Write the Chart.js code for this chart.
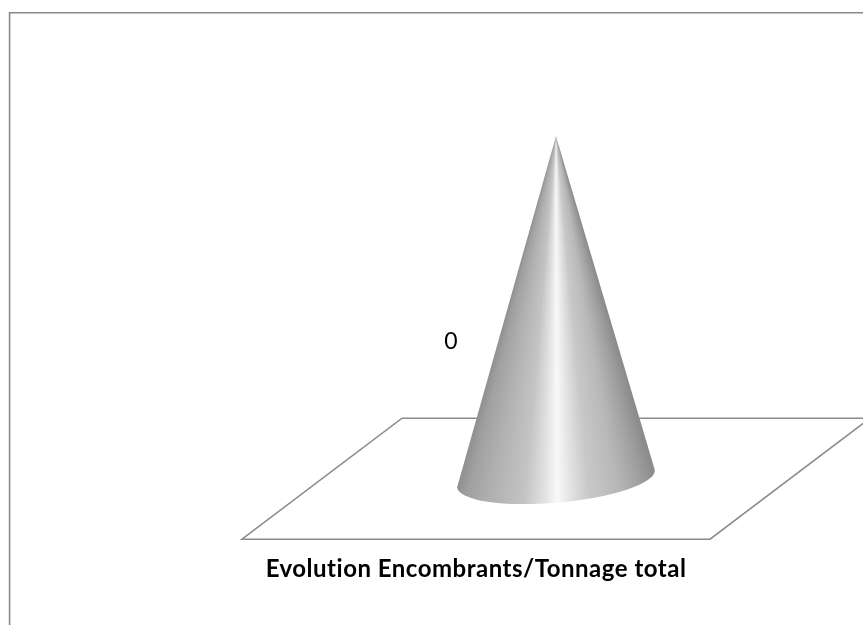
<!DOCTYPE html>
<html>
<head>
<meta charset="utf-8">
<title>Evolution Encombrants/Tonnage total</title>
<script src="https://cdn.jsdelivr.net/npm/chart.js"></script>
<style>
  html, body { margin: 0; padding: 0; background: #fff; overflow: hidden; }
  canvas { display: block; }
</style>
</head>
<body>
<canvas id="myChart" width="863" height="625"></canvas>
<script>
const categories = ["Encombrants"];
const tonnage = [0.4]; // label shows 0 once rounded
const chartTitle = "Evolution Encombrants/Tonnage total";

// shading across the cone, x is 0..1 from left edge to right edge of the base
const coneShades = [
  [0.00, "#8c8c8c"], [0.07, "#a0a0a0"], [0.185, "#b0b0b0"], [0.35, "#c4c4c4"],
  [0.44, "#e0e0e0"], [0.505, "#f8f8f8"], [0.58, "#e0e0e0"], [0.66, "#c8c8c8"],
  [0.80, "#b8b8b8"], [0.915, "#a0a0a0"], [1.00, "#8c8c8c"],
];

const floorDepth = { x: 160, y: -121 };
const lineColor = "#8b8b8b";

const framePlugin = {
  id: "frame",
  beforeDraw(chart) {
    // no ligatures in the title, the original font has none
    chart.ctx.letterSpacing = "0.5px";
  },
  beforeDatasetsDraw(chart) {
    const ctx = chart.ctx;
    const a = chart.chartArea;
    ctx.save();
    // outer frame, only top and left are inside the picture
    ctx.strokeStyle = "#8a8a8a";
    ctx.lineWidth = 1.6;
    ctx.beginPath();
    ctx.moveTo(9.6, chart.height);
    ctx.lineTo(9.6, 12.7);
    ctx.lineTo(chart.width, 12.7);
    ctx.stroke();
    // floor
    ctx.lineWidth = 1.6;
    ctx.strokeStyle = lineColor;
    ctx.beginPath();
    ctx.moveTo(a.left, a.bottom);
    ctx.lineTo(a.right, a.bottom);
    ctx.lineTo(a.right + floorDepth.x, a.bottom + floorDepth.y);
    ctx.lineTo(a.left + floorDepth.x, a.bottom + floorDepth.y);
    ctx.closePath();
    ctx.stroke();
    ctx.restore();
  },
};

const conePlugin = {
  id: "cone",
  afterDatasetsDraw(chart) {
    const ctx = chart.ctx;
    const bar = chart.getDatasetMeta(0).data[0];
    const cx = bar.x + floorDepth.x / 2;
    const cy = bar.base + floorDepth.y / 2;
    const apex = { x: cx, y: bar.y + floorDepth.y / 2 };
    const rx = bar.width / 2;
    const ry = 24;
    const tilt = -5 * Math.PI / 180;
    const left = { x: cx - rx * Math.cos(tilt), y: cy - rx * Math.sin(tilt) };
    const right = { x: cx + rx * Math.cos(tilt), y: cy + rx * Math.sin(tilt) };

    // strips all meet at the apex so a conic gradient gives the right look
    const angleOf = (t) => Math.atan2(cy - apex.y, left.x + (right.x - left.x) * t - apex.x);
    const start = angleOf(1);
    const span = angleOf(0) - start;
    const grad = ctx.createConicGradient(start, apex.x, apex.y);
    coneShades.forEach(([t, color]) => {
      grad.addColorStop(((angleOf(t) - start) / (2 * Math.PI)), color);
    });
    grad.addColorStop(span / (2 * Math.PI) + 0.02, coneShades[0][1]);
    grad.addColorStop(1 - 0.02, coneShades[coneShades.length - 1][1]);

    ctx.save();
    ctx.beginPath();
    ctx.moveTo(apex.x, apex.y);
    ctx.lineTo(left.x, left.y);
    ctx.ellipse(cx, cy, rx, ry, tilt, Math.PI, 0, true);
    ctx.closePath();
    ctx.fillStyle = grad;
    ctx.fill();

    // data label, rounded like the original
    ctx.letterSpacing = "0px";
    ctx.fillStyle = "#000";
    ctx.font = "23px Lato";
    ctx.textAlign = "center";
    ctx.textBaseline = "middle";
    ctx.fillText(tonnage[0].toFixed(0), cx - 105, apex.y + (cy - apex.y) * 0.6);
    ctx.restore();
  },
};

new Chart(document.getElementById("myChart"), {
  type: "bar",
  data: {
    labels: categories,
    datasets: [
      {
        label: chartTitle,
        data: tonnage,
        backgroundColor: "transparent",
        barPercentage: 0.424,
        categoryPercentage: 1,
      },
    ],
  },
  options: {
    responsive: false,
    animation: false,
    layout: { padding: { left: 242, right: 153, top: 111, bottom: 39 } },
    plugins: {
      legend: { display: false },
      tooltip: { enabled: false },
      title: {
        display: true,
        text: chartTitle,
        position: "bottom",
        color: "#000",
        font: { family: "Lato", size: 24, weight: "bold" },
        padding: { top: 16, bottom: 2 },
      },
    },
    scales: {
      x: { display: false },
      y: { display: false, min: 0, max: 0.5 },
    },
  },
  plugins: [framePlugin, conePlugin],
});
</script>
</body>
</html>
